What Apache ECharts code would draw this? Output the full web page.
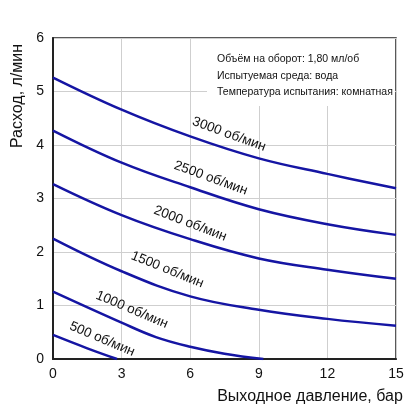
<!DOCTYPE html>
<html>
<head>
<meta charset="utf-8">
<script src="https://cdn.jsdelivr.net/npm/echarts@6/dist/echarts.min.js"></script>
<style>
  html, body { margin: 0; padding: 0; background: #fff; }
  #chart { width: 418px; height: 419px; }
</style>
</head>
<body>
<div id="chart"></div>
<script>
// values (pressure in bar, flow in l/min)
const pressure = [0, 3, 6, 9, 12, 15];
const flow3000 = [5.26, 4.66, 4.16, 3.75, 3.46, 3.19];
const flow2500 = [4.27, 3.67, 3.21, 2.80, 2.52, 2.32];
const flow2000 = [3.27, 2.69, 2.24, 1.88, 1.67, 1.50];
const flow1500 = [2.25, 1.64, 1.17, 0.92, 0.75, 0.62];
const pressure1000 = [0, 3, 4.5, 6, 7.5, 9.2];
const flow1000 = [1.26, 0.68, 0.41, 0.23, 0.10, 0];
const pressure500 = [0, 1.5, 2.8];
const flow500 = [0.45, 0.20, 0];

const speedLabels = ['3000 об/мин', '2500 об/мин', '2000 об/мин', '1500 об/мин', '1000 об/мин', '500 об/мин'];
const infoLines = [
  'Объём на оборот: 1,80 мл/об',
  'Испытуемая среда: вода',
  'Температура испытания: комнатная',
];

const FONT = 'Arial, "Liberation Sans", sans-serif';
const BLUE = '#1515a3';

const zip = (xs, ys) => xs.map((x, i) => [x, ys[i]]);

// where each curve's label sits (data coords) and its tilt
const labelSpots = [
  { at: [7.7, 4.20], rot: -20 },
  { at: [6.9, 3.38], rot: -20 },
  { at: [6.0, 2.53], rot: -21 },
  { at: [5.0, 1.67], rot: -22 },
  { at: [3.45, 0.92], rot: -23 },
  { at: [2.15, 0.37], rot: -23 },
];

const curves = [
  zip(pressure, flow3000),
  zip(pressure, flow2500),
  zip(pressure, flow2000),
  zip(pressure, flow1500),
  zip(pressure1000, flow1000),
  zip(pressure500, flow500),
];

const chart = echarts.init(document.getElementById('chart'), null, { renderer: 'canvas' });

chart.setOption({
  animation: false,
  backgroundColor: '#fff',
  textStyle: { fontFamily: FONT },
  grid: {
    left: 53, right: 22, top: 38, bottom: 60,
    show: true, borderColor: '#222', borderWidth: 1.5,
  },
  xAxis: {
    type: 'value',
    min: 0, max: 15, interval: 3,
    name: 'Выходное давление, бар',
    nameLocation: 'middle',
    nameGap: 30,
    nameTextStyle: { fontSize: 16, color: '#111', padding: [0, 0, 0, 171] },
    axisLine: { lineStyle: { color: '#222', width: 2 } },
    axisTick: { show: false },
    axisLabel: { fontSize: 14, color: '#111', margin: 8 },
    splitLine: { lineStyle: { color: '#cfcfcf', width: 1 } },
  },
  yAxis: {
    type: 'value',
    min: 0, max: 6, interval: 1,
    name: 'Расход, л/мин',
    nameLocation: 'middle',
    nameGap: 27,
    nameTextStyle: { fontSize: 16, color: '#111', padding: [0, 0, 0, 205] },
    axisLine: { show: true, lineStyle: { color: '#222', width: 2 } },
    axisTick: { show: false },
    axisLabel: { fontSize: 14, color: '#111', margin: 9 },
    splitLine: { lineStyle: { color: '#cfcfcf', width: 1 } },
  },
  graphic: [{
    type: 'group',
    left: 207, top: 39,
    children: [
      { type: 'rect', shape: { x: 0, y: 0, width: 188, height: 67 }, style: { fill: '#fff' }, z: 10 },
      {
        type: 'text', left: 10, top: 12, z: 11,
        style: { text: infoLines.join('\n'), font: '10.5px ' + FONT, fill: '#111', lineHeight: 16.5 },
      },
    ],
  }],
  series: curves.map((data, i) => ({
    type: 'line',
    data,
    smooth: 0.4,
    symbol: 'none',
    z: 5,
    lineStyle: { color: BLUE, width: 2.5 },
    markPoint: {
      symbol: 'circle',
      symbolSize: 0,
      silent: true,
      data: [{ coord: labelSpots[i].at }],
      label: {
        show: true,
        position: 'inside',
        formatter: speedLabels[i],
        rotate: labelSpots[i].rot,
        fontSize: 13.5,
        color: '#111',
        fontFamily: FONT,
      },
    },
  })),
});
</script>
</body>
</html>
